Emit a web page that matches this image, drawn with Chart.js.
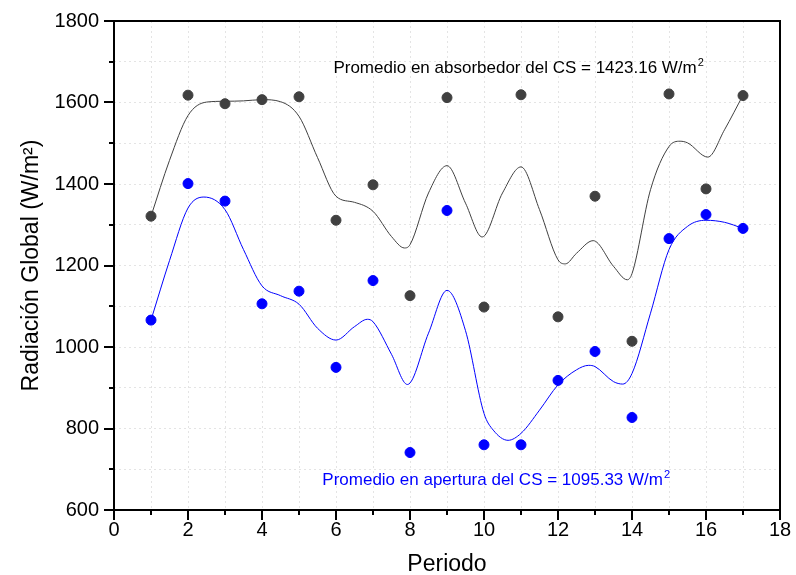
<!DOCTYPE html>
<html>
<head>
<meta charset="utf-8">
<script src="https://cdn.jsdelivr.net/npm/chart.js@4/dist/chart.umd.min.js"></script>
<style>
  html, body { margin: 0; padding: 0; background: #fff; }
  #wrap { width: 796px; height: 575px; }
</style>
</head>
<body>
<div id="wrap"><canvas id="radChart" width="796" height="575"></canvas></div>
<script>
// periods
const periods = [1, 2, 3, 4, 5, 6, 7, 8, 9, 10, 11, 12, 13, 14, 15, 16, 17];

// measured radiation (W/m2)
const absorberVals = [1321, 1618, 1597, 1607, 1614, 1311, 1398, 1126, 1612, 1098, 1619, 1074, 1370, 1014, 1621, 1388, 1617];
const apertureVals = [1066, 1401, 1358, 1106, 1137, 950, 1163, 741, 1335, 760, 760, 918, 989, 827, 1266, 1325, 1291];

// smoothed curves
const absorberFitX = [1, 1.5, 2, 2.5, 3, 3.5, 4, 4.5, 5, 5.5, 6, 6.5, 7, 7.5, 7.85, 8, 8.5, 9, 9.5, 9.95, 10.5, 11, 11.5, 12, 12.2, 12.5, 12.95, 13.5, 13.87, 14, 14.5, 15, 15.3, 15.5, 16.05, 16.5, 17];
const absorberFitY = [1321, 1458, 1568, 1601, 1603, 1604, 1607, 1602, 1566, 1465, 1370, 1355, 1333, 1271, 1243, 1251, 1378, 1445, 1353, 1270, 1378, 1442, 1337, 1214, 1204, 1230, 1261, 1198, 1165, 1180, 1386, 1492, 1505, 1501, 1466, 1533, 1618];

const apertureFitX = [1, 1.5, 2, 2.43, 3, 3.5, 4, 4.5, 5, 5.5, 6, 6.5, 6.85, 7, 7.5, 7.93, 8.5, 9, 9.5, 10, 10.25, 10.65, 11, 11.5, 12, 12.5, 12.83, 13, 13.5, 13.75, 14, 14.5, 15, 15.5, 16, 16.5, 17];
const apertureFitY = [1066, 1212, 1341, 1368, 1337, 1239, 1150, 1126, 1105, 1046, 1017, 1050, 1068, 1062, 982, 908, 1034, 1139, 1040, 837, 796, 771, 788, 845, 907, 944, 955, 952, 915, 909, 935, 1083, 1239, 1296, 1311, 1306, 1291];

const absorberLabel = "Promedio en absorbedor del CS = 1423.16 W/m";
const apertureLabel = "Promedio en apertura del CS = 1095.33 W/m";

const FONT = "'Liberation Sans', Arial, sans-serif";
const GREY = "#404040";
const BLUE = "#0000ff";

const toPts = (xs, ys) => xs.map((x, i) => ({ x: x, y: ys[i] }));

// text notes placed in data units
const notes = [
    { text: absorberLabel, x: 5.93, y: 1673, color: "#000" },
    { text: apertureLabel, x: 5.63, y: 661, color: BLUE }
];

const notesPlugin = {
    id: "notes",
    afterDatasetsDraw(chart) {
        const { ctx, scales: { x, y } } = chart;
        ctx.save();
        notes.forEach(n => {
            const px = x.getPixelForValue(n.x);
            const py = y.getPixelForValue(n.y);
            ctx.fillStyle = n.color;
            ctx.textBaseline = "alphabetic";
            ctx.font = "17px " + FONT;
            ctx.fillText(n.text, px, py);
            const w = ctx.measureText(n.text).width;
            ctx.font = "11px " + FONT;
            ctx.fillText("2", px + w + 1, py - 7);
        });
        ctx.restore();
    }
};

const framePlugin = {
    id: "frame",
    afterDraw(chart) {
        const { ctx, chartArea: a, scales: { x, y } } = chart;
        ctx.save();
        ctx.strokeStyle = "#000";
        ctx.lineWidth = 2;
        ctx.strokeRect(a.left, a.top, a.right - a.left, a.bottom - a.top);
        ctx.beginPath();
        x.ticks.forEach(t => {
            const px = Math.round(x.getPixelForValue(t.value));
            const len = t.value % 2 ? 5 : 10;
            ctx.moveTo(px, a.bottom);
            ctx.lineTo(px, a.bottom + len);
        });
        y.ticks.forEach(t => {
            const py = Math.round(y.getPixelForValue(t.value));
            const len = t.value % 200 ? 5 : 10;
            ctx.moveTo(a.left, py);
            ctx.lineTo(a.left - len, py);
        });
        ctx.stroke();
        ctx.restore();
    }
};

new Chart(document.getElementById("radChart"), {
    type: "scatter",
    data: {
        datasets: [
            {
                type: "line",
                data: toPts(absorberFitX, absorberFitY),
                borderColor: GREY,
                borderWidth: 1,
                pointRadius: 0,
                fill: false,
                cubicInterpolationMode: "monotone"
            },
            {
                type: "line",
                data: toPts(apertureFitX, apertureFitY),
                borderColor: BLUE,
                borderWidth: 1,
                pointRadius: 0,
                fill: false,
                cubicInterpolationMode: "monotone"
            },
            {
                data: toPts(periods, absorberVals),
                backgroundColor: GREY,
                borderColor: GREY,
                pointRadius: 5
            },
            {
                data: toPts(periods, apertureVals),
                backgroundColor: BLUE,
                borderColor: BLUE,
                pointRadius: 5
            }
        ]
    },
    options: {
        responsive: false,
        animation: false,
        layout: { padding: { top: 21, right: 16, left: 0, bottom: 0 } },
        plugins: { legend: { display: false }, tooltip: { enabled: false } },
        scales: {
            x: {
                type: "linear",
                min: 0,
                max: 18,
                afterFit: s => {
                    s.height = 65;
                    s.paddingLeft = 0;
                    s.paddingRight = 0;
                },
                ticks: {
                    stepSize: 1,
                    autoSkip: false,
                    maxRotation: 0,
                    padding: 8,
                    color: "#000",
                    font: { family: FONT, size: 20 },
                    callback: v => (v % 2 === 0 ? v : "")
                },
                grid: { color: "#e4e4e4", drawTicks: false },
                border: { display: false, dash: [2, 3] },
                title: {
                    display: true,
                    text: "Periodo",
                    color: "#000",
                    font: { family: FONT, size: 23, lineHeight: 0.9 },
                    padding: { top: 0, bottom: 0 }
                }
            },
            y: {
                min: 600,
                max: 1800,
                afterFit: s => {
                    s.width = 114;
                    s.paddingTop = 0;
                    s.paddingBottom = 0;
                },
                ticks: {
                    stepSize: 100,
                    autoSkip: false,
                    padding: 15,
                    color: "#000",
                    font: { family: FONT, size: 20 },
                    callback: v => (v % 200 === 0 ? v : "")
                },
                grid: { color: "#e4e4e4", drawTicks: false },
                border: { display: false, dash: [2, 3] },
                title: {
                    display: true,
                    text: "Radiación Global (W/m²)",
                    color: "#000",
                    font: { family: FONT, size: 23 },
                    padding: { top: 18, bottom: 0 }
                }
            }
        }
    },
    plugins: [notesPlugin, framePlugin]
});
</script>
</body>
</html>
